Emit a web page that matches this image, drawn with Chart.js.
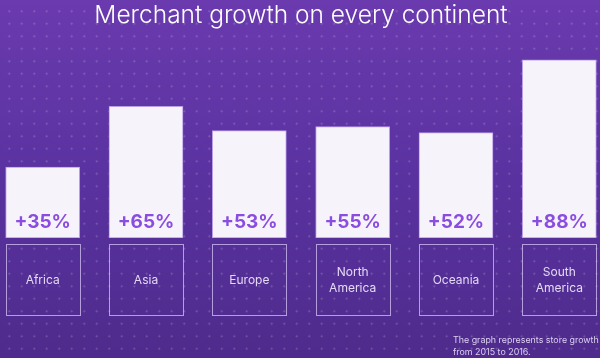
<!DOCTYPE html>
<html>
<head>
<meta charset="utf-8">
<script src="https://cdn.jsdelivr.net/npm/chart.js@4/dist/chart.umd.min.js"></script>
<style>
  html, body {
    margin: 0;
    padding: 0;
    width: 600px;
    height: 358px;
    overflow: hidden;
  }
  body {
    position: relative;
    background:
      radial-gradient(circle, rgba(255,255,255,0.22) 0.7px, rgba(255,255,255,0) 1.3px) 3px 5px / 12.5px 12.5px,
      linear-gradient(180deg, #6a3aae 0%, #5a32a0 50%, #4e2b8c 100%);
    font-family: Inter, "Noto Sans", sans-serif;
  }
  #growthChart {
    position: absolute;
    left: -9px;
    top: 0;
  }
  #note {
    position: absolute;
    left: 453px;
    top: 334px;
    font-size: 8.9px;
    line-height: 11.8px;
    color: #ddd0f2;
    white-space: nowrap;
  }
</style>
</head>
<body>
<canvas id="growthChart" width="620" height="358"></canvas>
<div id="note">The graph represents store growth<br>from 2015 to 2016.</div>
<script>
// continents and store growth 2015 -> 2016 (%)
const continents = [['Africa'], ['Asia'], ['Europe'], ['North', 'America'], ['Oceania'], ['South', 'America']];
const growth = [35, 65, 53, 55, 52, 88];

// outlined label boxes under each bar
const boxPlugin = {
    id: 'boxes',
    beforeDatasetsDraw(chart) {
        const ctx = chart.ctx;
        const bars = chart.getDatasetMeta(0).data;
        const top = chart.chartArea.bottom + 6;
        ctx.save();
        ctx.strokeStyle = 'rgba(214, 196, 246, 0.75)';
        ctx.lineWidth = 1;
        bars.forEach(function(bar) {
            const w = bar.width;
            ctx.strokeRect(Math.round(bar.x - w / 2) + 0.5, Math.round(top) + 0.5, Math.round(w), 71);
        });
        ctx.restore();
    }
};

// percentage labels inside the bars
const valuePlugin = {
    id: 'values',
    afterDatasetsDraw(chart) {
        const ctx = chart.ctx;
        const bars = chart.getDatasetMeta(0).data;
        ctx.save();
        ctx.fillStyle = '#8a4de0';
        ctx.font = 'bold 19px Inter, "Noto Sans", sans-serif';
        ctx.textAlign = 'center';
        ctx.textBaseline = 'middle';
        bars.forEach(function(bar, i) {
            ctx.fillText('+' + growth[i] + '%', bar.x, bar.base - 16);
        });
        ctx.restore();
    }
};

var growthCanvas = document.getElementById('growthChart').getContext('2d');
var growthChart = new Chart(growthCanvas, {
    type: 'bar',
    data: {
        labels: continents,
        datasets: [{
            data: growth,
            backgroundColor: '#f6f3fb',
            borderColor: 'rgba(196, 170, 240, 0.9)',
            borderWidth: 1,
            borderSkipped: false,
            barThickness: 74
        }]
    },
    options: {
        responsive: false,
        animation: false,
        layout: { padding: 0 },
        plugins: {
            legend: { display: false },
            tooltip: { enabled: false },
            title: {
                display: true,
                text: 'Merchant growth on every continent',
                color: '#ffffff',
                font: { family: 'Inter', size: 24.5, weight: '300', lineHeight: 1.2 },
                padding: { top: 1, bottom: 5 }
            }
        },
        scales: {
            x: {
                grid: { display: false, drawTicks: false },
                border: { display: false },
                ticks: {
                    color: '#e4d9f6',
                    font: { family: 'Inter', size: 12, lineHeight: 1.33 },
                    padding: 34,
                    crossAlign: 'center',
                    maxRotation: 0,
                    autoSkip: false
                },
                afterFit: function(scale) {
                    scale.height = 120;
                    scale.paddingLeft = 0;
                    scale.paddingRight = 0;
                }
            },
            y: {
                display: false,
                min: 0,
                max: 100
            }
        }
    },
    plugins: [boxPlugin, valuePlugin]
});
</script>
</body>
</html>
